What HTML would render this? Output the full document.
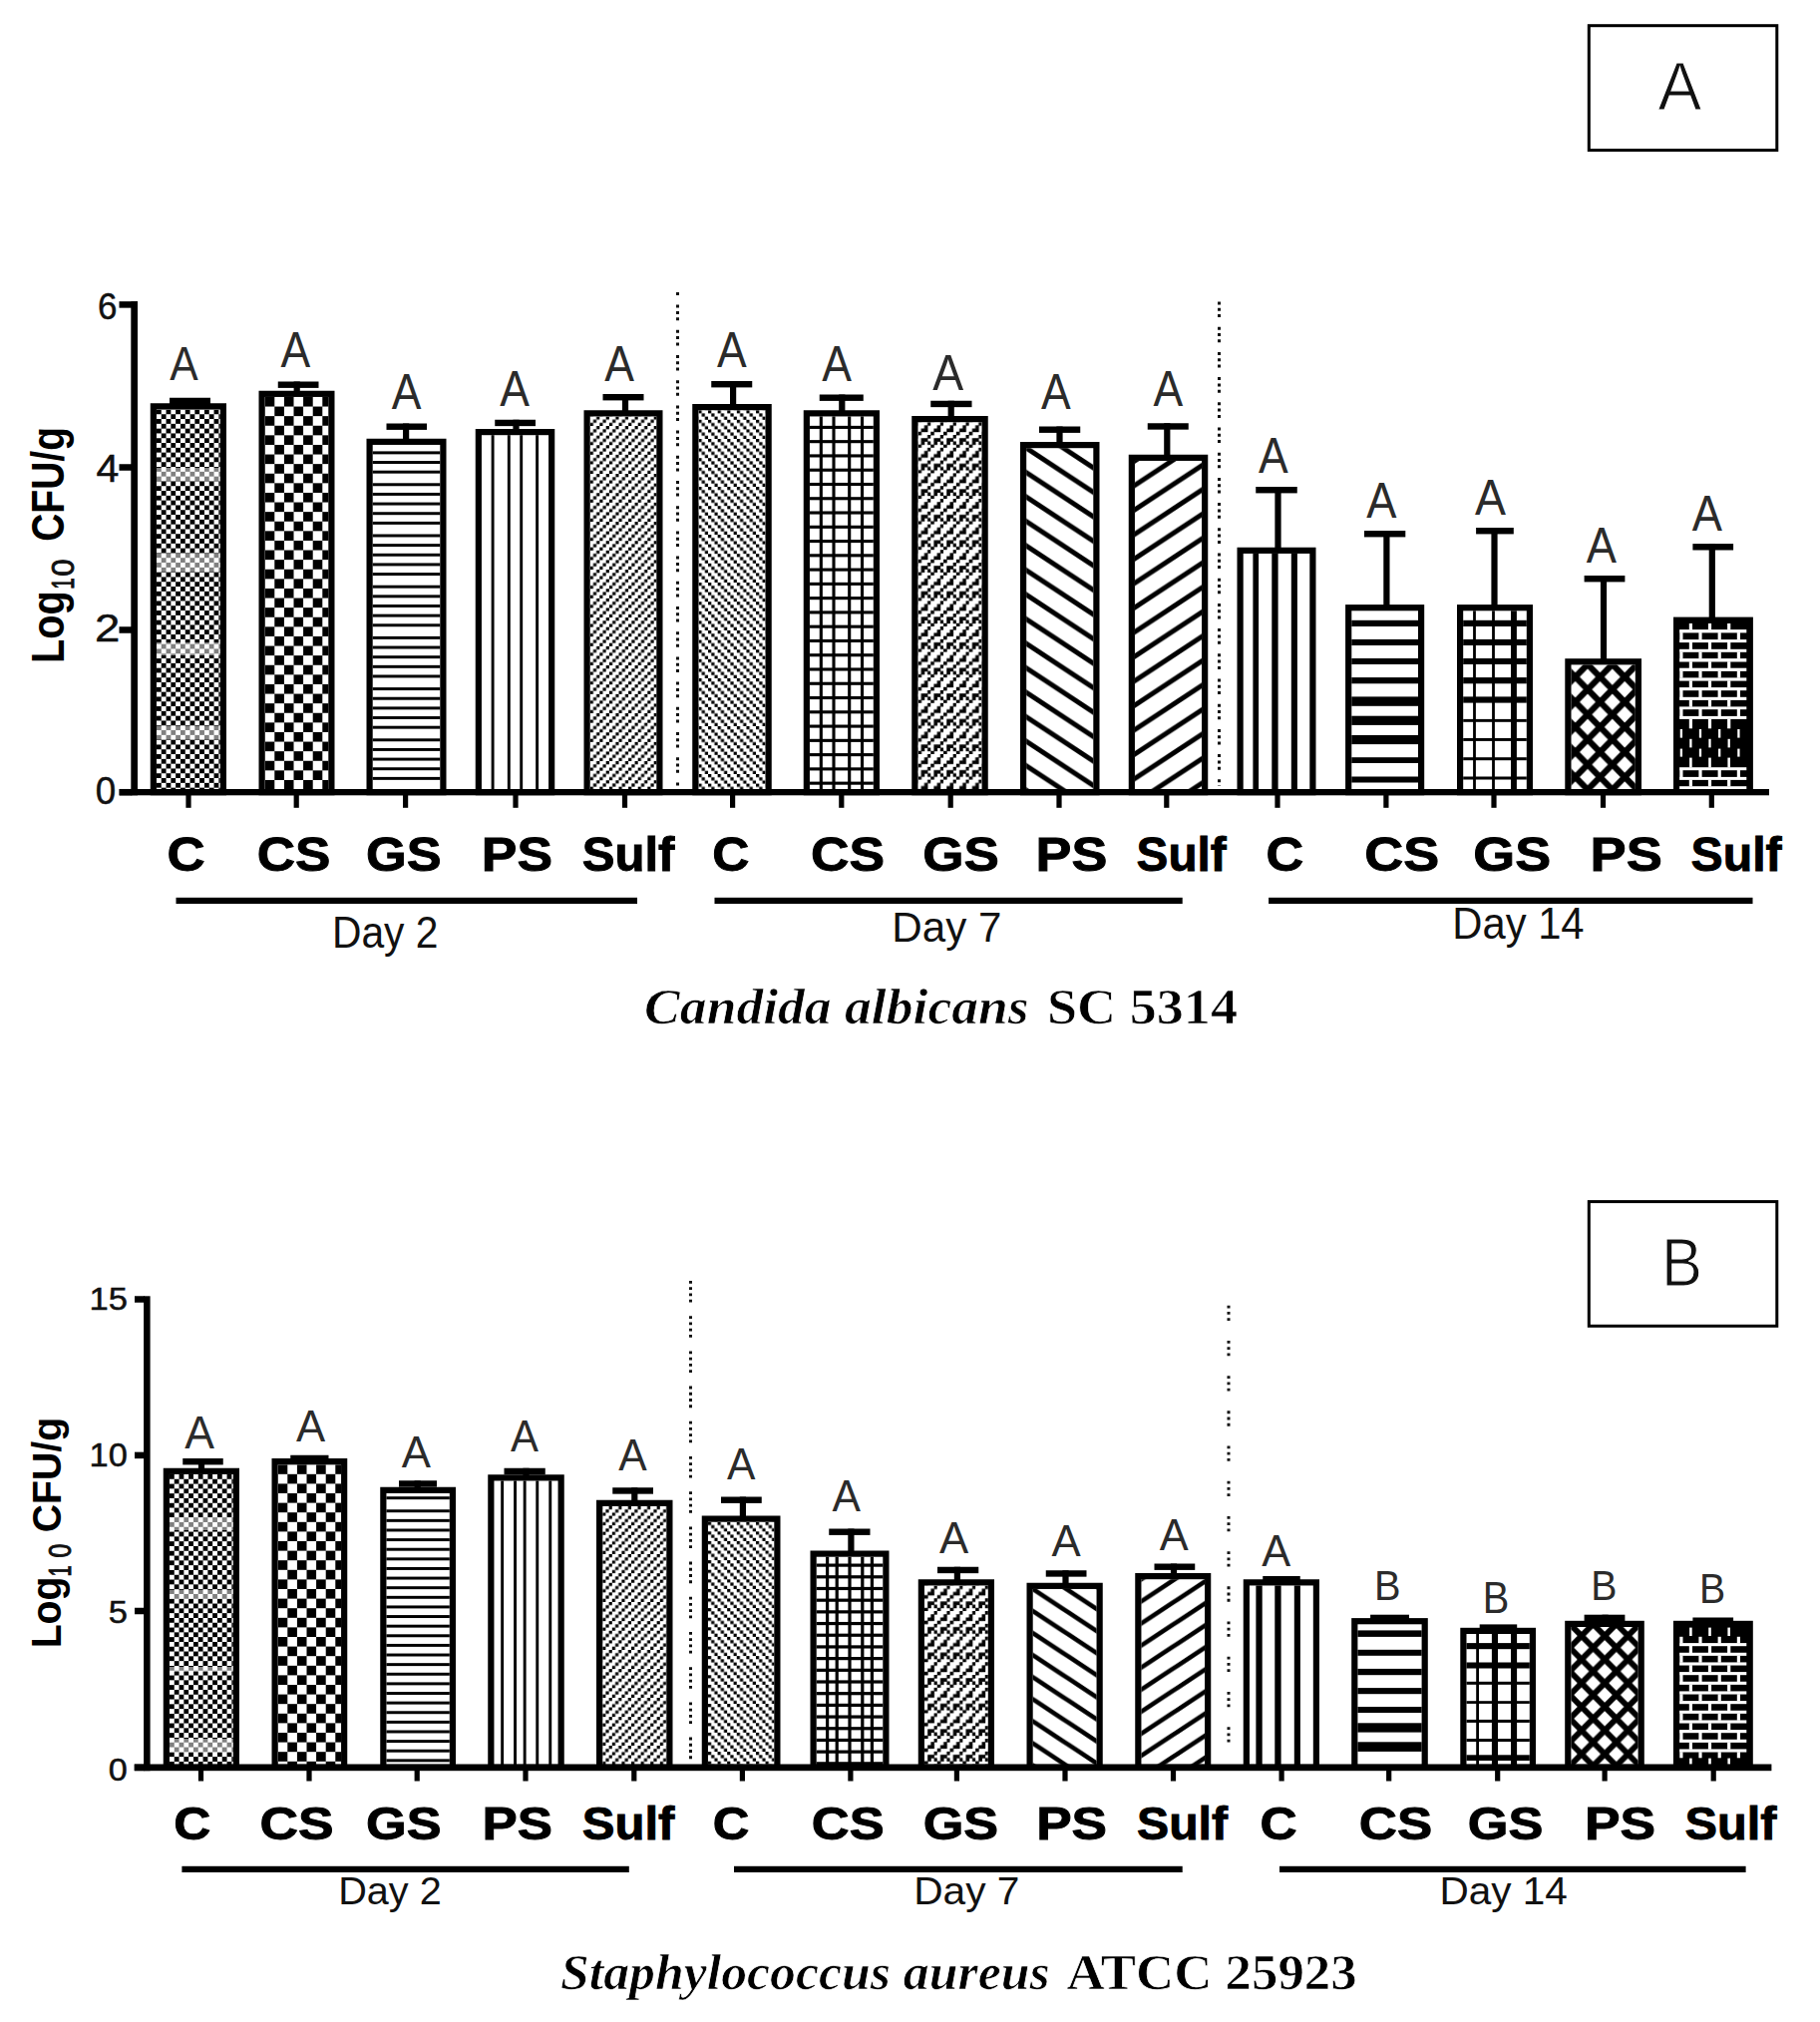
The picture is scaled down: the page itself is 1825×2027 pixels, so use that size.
<!DOCTYPE html>
<html><head><meta charset="utf-8"><title>Figure</title>
<style>html,body{margin:0;padding:0;background:#fff}svg{display:block}text{white-space:pre}</style></head>
<body><svg width="1825" height="2027" viewBox="0 0 1825 2027">
<defs>
<pattern id="pfine" patternUnits="userSpaceOnUse" width="9.6" height="9.6"><rect width="9.6" height="9.6" fill="#fff"/><rect x="0" y="0" width="4.8" height="4.8" fill="#000"/><rect x="4.8" y="4.8" width="4.8" height="4.8" fill="#000"/></pattern>
<pattern id="pchk" patternUnits="userSpaceOnUse" width="19.2" height="19.2"><rect width="19.2" height="19.2" fill="#fff"/><rect x="0" y="0" width="9.6" height="9.6" fill="#000"/><rect x="9.6" y="9.6" width="9.6" height="9.6" fill="#000"/></pattern>
<pattern id="ph" patternUnits="userSpaceOnUse" width="9.6" height="9.6"><rect width="9.6" height="9.6" fill="#fff"/><rect x="0" y="0" width="9.6" height="3" fill="#000"/></pattern>
<pattern id="pdl" patternUnits="userSpaceOnUse" width="9.6" height="9.6"><rect width="9.6" height="9.6" fill="#fff"/><rect x="0" y="6.4" width="3.2" height="3.2" fill="#000"/><rect x="3.2" y="3.2" width="3.2" height="3.2" fill="#000"/><rect x="6.4" y="0" width="3.2" height="3.2" fill="#000"/></pattern>
<pattern id="pdr" patternUnits="userSpaceOnUse" width="9.6" height="9.6"><rect width="9.6" height="9.6" fill="#fff"/><rect x="0" y="0" width="3.2" height="3.2" fill="#000"/><rect x="3.2" y="3.2" width="3.2" height="3.2" fill="#000"/><rect x="6.4" y="6.4" width="3.2" height="3.2" fill="#000"/></pattern>
<pattern id="pgs" patternUnits="userSpaceOnUse" width="14.2" height="14.2"><rect width="14.2" height="14.2" fill="#fff"/><rect x="0" y="0" width="14.2" height="3.6" fill="#000"/><rect x="0" y="0" width="3.6" height="14.2" fill="#000"/></pattern>
<pattern id="pzig" patternUnits="userSpaceOnUse" width="12.8" height="25.6"><rect width="12.8" height="25.6" fill="#fff"/>
<g fill="#000"><rect x="0" y="9.6" width="3.6" height="3.6"/><rect x="3.2" y="6.4" width="3.6" height="3.6"/><rect x="6.4" y="3.2" width="3.6" height="3.6"/><rect x="9.6" y="0" width="3.6" height="3.6"/>
<rect x="0" y="22.4" width="3.6" height="3.6"/><rect x="3.2" y="19.2" width="3.6" height="3.6"/><rect x="6.4" y="16" width="3.6" height="3.6"/><rect x="9.6" y="12.8" width="3.6" height="3.6"/>
<rect x="6.4" y="6.4" width="3.6" height="3.6"/><rect x="3.2" y="16" width="3.6" height="3.6"/><rect x="9.6" y="19.2" width="3.6" height="3.6"/></g></pattern>
<pattern id="pbs" patternUnits="userSpaceOnUse" width="37.2" height="24.5"><rect width="37.2" height="24.5" fill="#fff"/><g stroke="#000" stroke-width="4.9"><line x1="-37.2" y1="-24.5" x2="74.4" y2="49"/><line x1="-37.2" y1="-49" x2="74.4" y2="24.5"/><line x1="-37.2" y1="0" x2="74.4" y2="73.5"/></g></pattern>
<pattern id="pbsB" patternUnits="userSpaceOnUse" width="33.6" height="22.1"><rect width="33.6" height="22.1" fill="#fff"/><g stroke="#000" stroke-width="4.6"><line x1="-33.6" y1="-22.1" x2="67.2" y2="44.2"/><line x1="-33.6" y1="-44.2" x2="67.2" y2="22.1"/><line x1="-33.6" y1="0" x2="67.2" y2="66.3"/></g></pattern>
<pattern id="pfsB" patternUnits="userSpaceOnUse" width="33.6" height="22.1"><rect width="33.6" height="22.1" fill="#fff"/><g stroke="#000" stroke-width="4.6"><line x1="-33.6" y1="44.2" x2="67.2" y2="-22.1"/><line x1="-33.6" y1="66.3" x2="67.2" y2="0"/><line x1="-33.6" y1="22.1" x2="67.2" y2="-44.2"/></g></pattern>
<pattern id="pfs" patternUnits="userSpaceOnUse" width="37.2" height="24.5"><rect width="37.2" height="24.5" fill="#fff"/><g stroke="#000" stroke-width="4.9"><line x1="-37.2" y1="49" x2="74.4" y2="-24.5"/><line x1="-37.2" y1="73.5" x2="74.4" y2="0"/><line x1="-37.2" y1="24.5" x2="74.4" y2="-49"/></g></pattern>
<pattern id="pdiaA" patternUnits="userSpaceOnUse" x="1579.60" y="666.05" width="24.8" height="25.1"><rect width="24.8" height="25.1" fill="#000"/><polygon points="12.40,4.45 20.40,12.55 12.40,20.65 4.40,12.55" fill="#fff"/><polygon points="0.00,-8.10 8.00,0.00 0.00,8.10 -8.00,0.00" fill="#fff"/><polygon points="24.80,-8.10 32.80,0.00 24.80,8.10 16.80,0.00" fill="#fff"/><polygon points="0.00,17.00 8.00,25.10 0.00,33.20 -8.00,25.10" fill="#fff"/><polygon points="24.80,17.00 32.80,25.10 24.80,33.20 16.80,25.10" fill="#fff"/></pattern><pattern id="pdiaB" patternUnits="userSpaceOnUse" x="1585.85" y="1628.05" width="23.3" height="23.7"><rect width="23.3" height="23.7" fill="#000"/><polygon points="11.65,4.15 19.25,11.85 11.65,19.55 4.05,11.85" fill="#fff"/><polygon points="0.00,-7.70 7.60,0.00 0.00,7.70 -7.60,0.00" fill="#fff"/><polygon points="23.30,-7.70 30.90,0.00 23.30,7.70 15.70,0.00" fill="#fff"/><polygon points="0.00,16.00 7.60,23.70 0.00,31.40 -7.60,23.70" fill="#fff"/><polygon points="23.30,16.00 30.90,23.70 23.30,31.40 15.70,23.70" fill="#fff"/></pattern>
<pattern id="pbrick" patternUnits="userSpaceOnUse" width="19.1" height="19.2"><rect width="19.1" height="19.2" fill="#000"/><rect x="0" y="0" width="19.1" height="3.1" fill="#fff"/><rect x="0" y="9.6" width="19.1" height="3.1" fill="#fff"/><rect x="0" y="3.1" width="3.3" height="6.5" fill="#fff"/><rect x="9.55" y="12.7" width="3.3" height="6.5" fill="#fff"/></pattern>
</defs>
<rect width="1825" height="2027" fill="#fff"/>
<line x1="679.5" y1="292.5" x2="679.5" y2="788.0" stroke="#111" stroke-width="3" stroke-dasharray="3 3.3 3 3.3 3 9.6" stroke-dashoffset="12.1"/>
<line x1="1222.5" y1="302.5" x2="1222.5" y2="788.0" stroke="#111" stroke-width="3" stroke-dasharray="3 3.3 3 3.3 3 9.6" stroke-dashoffset="0"/>
<g transform="translate(156.95,410.45)">
<rect x="0" y="0" width="63.85" height="383.70" fill="url(#pfine)"/>
<rect x="0" y="58.55" width="63.85" height="13.00" fill="#fff" fill-opacity="0.5"/>
<rect x="0" y="144.55" width="63.85" height="18.00" fill="#fff" fill-opacity="0.5"/>
<rect x="0" y="233.55" width="63.85" height="13.00" fill="#fff" fill-opacity="0.5"/>
<rect x="0" y="317.55" width="63.85" height="13.00" fill="#fff" fill-opacity="0.5"/>
</g>
<rect x="153.85" y="407.35" width="70.05" height="386.80" fill="none" stroke="#000" stroke-width="6.2"/>
<g transform="translate(265.70,397.95)">
<rect x="0" y="0" width="63.60" height="396.20" fill="url(#pchk)"/>
</g>
<rect x="262.60" y="394.85" width="69.80" height="399.30" fill="none" stroke="#000" stroke-width="6.2"/>
<g transform="translate(373.70,445.95)">
<rect x="0" y="0" width="67.60" height="348.20" fill="#fff"/>
<rect x="0" y="6.45" width="67.60" height="2.95" fill="#000"/>
<rect x="0" y="16.10" width="67.60" height="2.95" fill="#000"/>
<rect x="0" y="25.75" width="67.60" height="2.95" fill="#000"/>
<rect x="0" y="38.35" width="67.60" height="2.95" fill="#000"/>
<rect x="0" y="48.00" width="67.60" height="2.95" fill="#000"/>
<rect x="0" y="57.65" width="67.60" height="2.95" fill="#000"/>
<rect x="0" y="67.30" width="67.60" height="2.95" fill="#000"/>
<rect x="0" y="76.95" width="67.60" height="2.95" fill="#000"/>
<rect x="0" y="89.55" width="67.60" height="2.95" fill="#000"/>
<rect x="0" y="99.20" width="67.60" height="2.95" fill="#000"/>
<rect x="0" y="108.85" width="67.60" height="2.95" fill="#000"/>
<rect x="0" y="118.50" width="67.60" height="2.95" fill="#000"/>
<rect x="0" y="128.15" width="67.60" height="2.95" fill="#000"/>
<rect x="0" y="140.75" width="67.60" height="2.95" fill="#000"/>
<rect x="0" y="150.40" width="67.60" height="2.95" fill="#000"/>
<rect x="0" y="160.05" width="67.60" height="2.95" fill="#000"/>
<rect x="0" y="169.70" width="67.60" height="2.95" fill="#000"/>
<rect x="0" y="179.35" width="67.60" height="2.95" fill="#000"/>
<rect x="0" y="191.95" width="67.60" height="2.95" fill="#000"/>
<rect x="0" y="201.60" width="67.60" height="2.95" fill="#000"/>
<rect x="0" y="211.25" width="67.60" height="2.95" fill="#000"/>
<rect x="0" y="220.90" width="67.60" height="2.95" fill="#000"/>
<rect x="0" y="230.55" width="67.60" height="2.95" fill="#000"/>
<rect x="0" y="243.15" width="67.60" height="2.95" fill="#000"/>
<rect x="0" y="252.80" width="67.60" height="2.95" fill="#000"/>
<rect x="0" y="262.45" width="67.60" height="2.95" fill="#000"/>
<rect x="0" y="272.10" width="67.60" height="2.95" fill="#000"/>
<rect x="0" y="281.75" width="67.60" height="2.95" fill="#000"/>
<rect x="0" y="294.35" width="67.60" height="2.95" fill="#000"/>
<rect x="0" y="304.00" width="67.60" height="2.95" fill="#000"/>
<rect x="0" y="313.65" width="67.60" height="2.95" fill="#000"/>
<rect x="0" y="323.30" width="67.60" height="2.95" fill="#000"/>
<rect x="0" y="332.95" width="67.60" height="2.95" fill="#000"/>
</g>
<rect x="370.60" y="442.85" width="73.80" height="351.30" fill="none" stroke="#000" stroke-width="6.2"/>
<g transform="translate(482.95,436.20)">
<rect x="0" y="0" width="67.10" height="357.95" fill="#fff"/>
<rect x="9.70" y="0" width="2.9" height="357.95" fill="#000"/>
<rect x="25.90" y="0" width="2.9" height="357.95" fill="#000"/>
<rect x="38.30" y="0" width="2.9" height="357.95" fill="#000"/>
<rect x="54.20" y="0" width="2.9" height="357.95" fill="#000"/>
</g>
<rect x="479.85" y="433.10" width="73.30" height="361.05" fill="none" stroke="#000" stroke-width="6.2"/>
<g transform="translate(591.70,417.45)">
<rect x="0" y="0" width="66.60" height="376.70" fill="url(#pdl)"/>
</g>
<rect x="588.60" y="414.35" width="72.80" height="379.80" fill="none" stroke="#000" stroke-width="6.2"/>
<g transform="translate(700.45,411.20)">
<rect x="0" y="0" width="67.10" height="382.95" fill="url(#pdr)"/>
</g>
<rect x="697.35" y="408.10" width="73.30" height="386.05" fill="none" stroke="#000" stroke-width="6.2"/>
<g transform="translate(811.95,417.45)">
<rect x="0" y="0" width="63.85" height="376.70" fill="#fff"/>
<rect x="9.80" y="0" width="3.1" height="376.70" fill="#000"/>
<rect x="22.50" y="0" width="3.1" height="376.70" fill="#000"/>
<rect x="38.20" y="0" width="3.1" height="376.70" fill="#000"/>
<rect x="51.00" y="0" width="3.1" height="376.70" fill="#000"/>
<rect x="0" y="9.40" width="63.85" height="3.1" fill="#000"/>
<rect x="0" y="23.67" width="63.85" height="3.1" fill="#000"/>
<rect x="0" y="37.94" width="63.85" height="3.1" fill="#000"/>
<rect x="0" y="52.21" width="63.85" height="3.1" fill="#000"/>
<rect x="0" y="66.48" width="63.85" height="3.1" fill="#000"/>
<rect x="0" y="80.75" width="63.85" height="3.1" fill="#000"/>
<rect x="0" y="95.02" width="63.85" height="3.1" fill="#000"/>
<rect x="0" y="109.29" width="63.85" height="3.1" fill="#000"/>
<rect x="0" y="123.56" width="63.85" height="3.1" fill="#000"/>
<rect x="0" y="137.83" width="63.85" height="3.1" fill="#000"/>
<rect x="0" y="152.10" width="63.85" height="3.1" fill="#000"/>
<rect x="0" y="166.37" width="63.85" height="3.1" fill="#000"/>
<rect x="0" y="180.64" width="63.85" height="3.1" fill="#000"/>
<rect x="0" y="194.91" width="63.85" height="3.1" fill="#000"/>
<rect x="0" y="209.18" width="63.85" height="3.1" fill="#000"/>
<rect x="0" y="223.45" width="63.85" height="3.1" fill="#000"/>
<rect x="0" y="237.72" width="63.85" height="3.1" fill="#000"/>
<rect x="0" y="251.99" width="63.85" height="3.1" fill="#000"/>
<rect x="0" y="266.26" width="63.85" height="3.1" fill="#000"/>
<rect x="0" y="280.53" width="63.85" height="3.1" fill="#000"/>
<rect x="0" y="294.80" width="63.85" height="3.1" fill="#000"/>
<rect x="0" y="309.07" width="63.85" height="3.1" fill="#000"/>
<rect x="0" y="323.34" width="63.85" height="3.1" fill="#000"/>
<rect x="0" y="337.61" width="63.85" height="3.1" fill="#000"/>
<rect x="0" y="351.88" width="63.85" height="3.1" fill="#000"/>
<rect x="0" y="366.15" width="63.85" height="3.1" fill="#000"/>
</g>
<rect x="808.85" y="414.35" width="70.05" height="379.80" fill="none" stroke="#000" stroke-width="6.2"/>
<g transform="translate(920.45,423.20)">
<rect x="0" y="0" width="64.10" height="370.95" fill="url(#pzig)"/>
</g>
<rect x="917.35" y="420.10" width="70.30" height="374.05" fill="none" stroke="#000" stroke-width="6.2"/>
<g transform="translate(1029.20,449.20)">
<rect x="0" y="0" width="67.10" height="344.95" fill="url(#pbs)"/>
</g>
<rect x="1026.10" y="446.10" width="73.30" height="348.05" fill="none" stroke="#000" stroke-width="6.2"/>
<g transform="translate(1137.95,461.95)">
<rect x="0" y="0" width="67.10" height="332.20" fill="url(#pfs)"/>
</g>
<rect x="1134.85" y="458.85" width="73.30" height="335.30" fill="none" stroke="#000" stroke-width="6.2"/>
<g transform="translate(1246.70,554.95)">
<rect x="0" y="0" width="66.60" height="239.20" fill="#fff"/>
<rect x="9.70" y="0" width="5.70" height="239.20" fill="#000"/>
<rect x="28.60" y="0" width="6.30" height="239.20" fill="#000"/>
<rect x="48.10" y="0" width="6.10" height="239.20" fill="#000"/>
</g>
<rect x="1243.60" y="551.85" width="72.80" height="242.30" fill="none" stroke="#000" stroke-width="6.2"/>
<g transform="translate(1355.30,612.30)">
<rect x="0" y="0" width="66.70" height="181.85" fill="#fff"/>
<rect x="0" y="9.50" width="66.70" height="6.20" fill="#000"/>
<rect x="0" y="28.60" width="66.70" height="6.10" fill="#000"/>
<rect x="0" y="47.70" width="66.70" height="6.00" fill="#000"/>
<rect x="0" y="66.80" width="66.70" height="6.20" fill="#000"/>
<rect x="0" y="86.10" width="66.70" height="9.40" fill="#000"/>
<rect x="0" y="105.40" width="66.70" height="9.20" fill="#000"/>
<rect x="0" y="124.70" width="66.70" height="9.10" fill="#000"/>
<rect x="0" y="146.90" width="66.70" height="5.80" fill="#000"/>
<rect x="0" y="166.20" width="66.70" height="6.00" fill="#000"/>
</g>
<rect x="1352.20" y="609.20" width="72.90" height="184.95" fill="none" stroke="#000" stroke-width="6.2"/>
<g transform="translate(1467.20,612.30)">
<rect x="0" y="0" width="63.60" height="181.85" fill="#fff"/>
<rect x="9.90" y="0" width="2.80" height="181.85" fill="#000"/>
<rect x="28.90" y="0" width="2.80" height="181.85" fill="#000"/>
<rect x="47.80" y="0" width="5.90" height="181.85" fill="#000"/>
<rect x="0" y="9.50" width="63.60" height="6.20" fill="#000"/>
<rect x="0" y="28.60" width="63.60" height="6.10" fill="#000"/>
<rect x="0" y="47.70" width="63.60" height="6.00" fill="#000"/>
<rect x="0" y="66.80" width="63.60" height="6.20" fill="#000"/>
<rect x="0" y="86.10" width="63.60" height="6.20" fill="#000"/>
<rect x="0" y="108.60" width="63.60" height="2.90" fill="#000"/>
<rect x="0" y="127.70" width="63.60" height="2.90" fill="#000"/>
<rect x="0" y="146.90" width="63.60" height="3.00" fill="#000"/>
<rect x="0" y="166.20" width="63.60" height="3.00" fill="#000"/>
</g>
<rect x="1464.10" y="609.20" width="69.80" height="184.95" fill="none" stroke="#000" stroke-width="6.2"/>
<rect x="1575.50" y="666.40" width="64.30" height="127.75" fill="url(#pdiaA)"/>
<rect x="1572.40" y="663.30" width="70.50" height="130.85" fill="none" stroke="#000" stroke-width="6.2"/>
<rect x="1678.00" y="618.60" width="79.90" height="175.55" fill="#000"/>
<rect x="1693.80" y="625.00" width="3.2" height="6.50" fill="#fff"/>
<rect x="1712.90" y="625.00" width="3.2" height="6.50" fill="#fff"/>
<rect x="1732.10" y="625.00" width="3.2" height="6.50" fill="#fff"/>
<rect x="1684.1" y="631.10" width="67.20" height="3.30" fill="#fff"/>
<rect x="1684.30" y="634.10" width="3.2" height="7.30" fill="#fff"/>
<rect x="1703.40" y="634.10" width="3.2" height="7.30" fill="#fff"/>
<rect x="1722.60" y="634.10" width="3.2" height="7.30" fill="#fff"/>
<rect x="1741.80" y="634.10" width="3.2" height="7.30" fill="#fff"/>
<rect x="1684.1" y="641.10" width="67.20" height="3.00" fill="#fff"/>
<rect x="1693.80" y="643.80" width="3.2" height="7.30" fill="#fff"/>
<rect x="1712.90" y="643.80" width="3.2" height="7.30" fill="#fff"/>
<rect x="1732.10" y="643.80" width="3.2" height="7.30" fill="#fff"/>
<rect x="1684.1" y="650.80" width="67.20" height="3.00" fill="#fff"/>
<rect x="1684.30" y="653.50" width="3.2" height="6.90" fill="#fff"/>
<rect x="1703.40" y="653.50" width="3.2" height="6.90" fill="#fff"/>
<rect x="1722.60" y="653.50" width="3.2" height="6.90" fill="#fff"/>
<rect x="1741.80" y="653.50" width="3.2" height="6.90" fill="#fff"/>
<rect x="1684.1" y="660.10" width="67.20" height="3.40" fill="#fff"/>
<rect x="1693.80" y="663.20" width="3.2" height="6.80" fill="#fff"/>
<rect x="1712.90" y="663.20" width="3.2" height="6.80" fill="#fff"/>
<rect x="1732.10" y="663.20" width="3.2" height="6.80" fill="#fff"/>
<rect x="1684.1" y="669.70" width="67.20" height="3.20" fill="#fff"/>
<rect x="1684.30" y="672.60" width="3.2" height="7.10" fill="#fff"/>
<rect x="1703.40" y="672.60" width="3.2" height="7.10" fill="#fff"/>
<rect x="1722.60" y="672.60" width="3.2" height="7.10" fill="#fff"/>
<rect x="1741.80" y="672.60" width="3.2" height="7.10" fill="#fff"/>
<rect x="1684.1" y="679.40" width="67.20" height="3.20" fill="#fff"/>
<rect x="1693.80" y="682.30" width="3.2" height="7.10" fill="#fff"/>
<rect x="1712.90" y="682.30" width="3.2" height="7.10" fill="#fff"/>
<rect x="1732.10" y="682.30" width="3.2" height="7.10" fill="#fff"/>
<rect x="1684.1" y="689.10" width="67.20" height="3.10" fill="#fff"/>
<rect x="1684.30" y="691.90" width="3.2" height="7.20" fill="#fff"/>
<rect x="1703.40" y="691.90" width="3.2" height="7.20" fill="#fff"/>
<rect x="1722.60" y="691.90" width="3.2" height="7.20" fill="#fff"/>
<rect x="1741.80" y="691.90" width="3.2" height="7.20" fill="#fff"/>
<rect x="1684.1" y="698.80" width="67.20" height="3.10" fill="#fff"/>
<rect x="1693.80" y="701.60" width="3.2" height="7.10" fill="#fff"/>
<rect x="1712.90" y="701.60" width="3.2" height="7.10" fill="#fff"/>
<rect x="1732.10" y="701.60" width="3.2" height="7.10" fill="#fff"/>
<rect x="1684.1" y="708.40" width="67.20" height="2.80" fill="#fff"/>
<rect x="1684.30" y="710.90" width="3.2" height="7.30" fill="#fff"/>
<rect x="1703.40" y="710.90" width="3.2" height="7.30" fill="#fff"/>
<rect x="1722.60" y="710.90" width="3.2" height="7.30" fill="#fff"/>
<rect x="1741.80" y="710.90" width="3.2" height="7.30" fill="#fff"/>
<rect x="1684.1" y="717.90" width="67.20" height="3.00" fill="#fff"/>
<rect x="1693.80" y="720.60" width="3.2" height="9.70" fill="#fff"/>
<rect x="1712.90" y="720.60" width="3.2" height="9.70" fill="#fff"/>
<rect x="1732.10" y="720.60" width="3.2" height="9.70" fill="#fff"/>
<rect x="1684.75" y="731.00" width="2.3" height="8.60" fill="#fff"/>
<rect x="1703.85" y="731.00" width="2.3" height="8.60" fill="#fff"/>
<rect x="1723.05" y="731.00" width="2.3" height="8.60" fill="#fff"/>
<rect x="1742.25" y="731.00" width="2.3" height="8.60" fill="#fff"/>
<rect x="1694.25" y="740.80" width="2.3" height="8.60" fill="#fff"/>
<rect x="1713.35" y="740.80" width="2.3" height="8.60" fill="#fff"/>
<rect x="1732.55" y="740.80" width="2.3" height="8.60" fill="#fff"/>
<rect x="1684.75" y="750.60" width="2.3" height="8.00" fill="#fff"/>
<rect x="1703.85" y="750.60" width="2.3" height="8.00" fill="#fff"/>
<rect x="1723.05" y="750.60" width="2.3" height="8.00" fill="#fff"/>
<rect x="1742.25" y="750.60" width="2.3" height="8.00" fill="#fff"/>
<rect x="1694.10" y="759.60" width="2.6" height="9.90" fill="#fff"/>
<rect x="1713.20" y="759.60" width="2.6" height="9.90" fill="#fff"/>
<rect x="1732.40" y="759.60" width="2.6" height="9.90" fill="#fff"/>
<rect x="1684.1" y="769.20" width="67.20" height="3.00" fill="#fff"/>
<rect x="1684.30" y="771.90" width="3.2" height="7.30" fill="#fff"/>
<rect x="1703.40" y="771.90" width="3.2" height="7.30" fill="#fff"/>
<rect x="1722.60" y="771.90" width="3.2" height="7.30" fill="#fff"/>
<rect x="1741.80" y="771.90" width="3.2" height="7.30" fill="#fff"/>
<rect x="1684.1" y="778.90" width="67.20" height="3.00" fill="#fff"/>
<rect x="1693.80" y="781.60" width="3.2" height="6.90" fill="#fff"/>
<rect x="1712.90" y="781.60" width="3.2" height="6.90" fill="#fff"/>
<rect x="1732.10" y="781.60" width="3.2" height="6.90" fill="#fff"/>
<rect x="1684.1" y="788.20" width="67.20" height="3.00" fill="#fff"/>
<rect x="170.00" y="398.75" width="41.00" height="6.4" fill="#000"/>
<rect x="278.75" y="382.50" width="40.75" height="6.4" fill="#000"/><rect x="294.60" y="382.50" width="6.2" height="10.25" fill="#000"/>
<rect x="387.50" y="424.50" width="40.50" height="6.4" fill="#000"/><rect x="404.00" y="424.50" width="6.2" height="16.25" fill="#000"/>
<rect x="496.25" y="420.75" width="40.75" height="6.4" fill="#000"/><rect x="514.40" y="420.75" width="6.2" height="10.25" fill="#000"/>
<rect x="604.50" y="395.00" width="41.00" height="6.4" fill="#000"/><rect x="623.90" y="395.00" width="6.2" height="17.25" fill="#000"/>
<rect x="713.25" y="382.00" width="41.00" height="6.4" fill="#000"/><rect x="732.00" y="382.00" width="6.2" height="24.00" fill="#000"/>
<rect x="821.75" y="395.50" width="44.00" height="6.4" fill="#000"/><rect x="841.20" y="395.50" width="6.2" height="16.75" fill="#000"/>
<rect x="933.25" y="401.75" width="41.25" height="6.4" fill="#000"/><rect x="950.60" y="401.75" width="6.2" height="16.25" fill="#000"/>
<rect x="1042.00" y="427.50" width="41.25" height="6.4" fill="#000"/><rect x="1059.40" y="427.50" width="6.2" height="16.50" fill="#000"/>
<rect x="1150.75" y="424.25" width="41.00" height="6.4" fill="#000"/><rect x="1167.20" y="424.25" width="6.2" height="32.50" fill="#000"/>
<rect x="1259.25" y="488.00" width="41.50" height="6.4" fill="#000"/><rect x="1278.40" y="488.00" width="6.2" height="61.75" fill="#000"/>
<rect x="1368.00" y="532.00" width="41.30" height="6.4" fill="#000"/><rect x="1387.30" y="532.00" width="6.2" height="75.10" fill="#000"/>
<rect x="1480.10" y="529.00" width="37.70" height="6.4" fill="#000"/><rect x="1495.40" y="529.00" width="6.2" height="78.10" fill="#000"/>
<rect x="1588.60" y="577.00" width="40.80" height="6.4" fill="#000"/><rect x="1604.90" y="577.00" width="6.2" height="84.20" fill="#000"/>
<rect x="1697.40" y="545.10" width="40.70" height="6.4" fill="#000"/><rect x="1713.70" y="545.10" width="6.2" height="74.50" fill="#000"/>
<rect x="131.3" y="302.0" width="6.70" height="495.30" fill="#000"/>
<rect x="119.8" y="791.0" width="1654.20" height="6.30" fill="#000"/>
<rect x="119.5" y="302.15" width="12.80" height="6.5" fill="#000"/>
<text transform="translate(97.96,319.90) scale(0.9489,1)" style="font-family:'Liberation Sans',sans-serif;font-size:36.71px" fill="#111" stroke="#111" stroke-width="0.5">6</text>
<rect x="119.5" y="465.25" width="12.80" height="6.5" fill="#000"/>
<text transform="translate(96.38,482.90) scale(1.0713,1)" style="font-family:'Liberation Sans',sans-serif;font-size:38.26px" fill="#111" stroke="#111" stroke-width="0.5">4</text>
<rect x="119.5" y="628.25" width="12.80" height="6.5" fill="#000"/>
<text transform="translate(94.93,643.10) scale(1.1751,1)" style="font-family:'Liberation Sans',sans-serif;font-size:38.71px" fill="#111" stroke="#111" stroke-width="0.5">2</text>
<rect x="119.5" y="790.95" width="12.80" height="6.5" fill="#000"/>
<text transform="translate(95.83,806.10) scale(0.9613,1)" style="font-family:'Liberation Sans',sans-serif;font-size:38.14px" fill="#111" stroke="#111" stroke-width="0.5">0</text>
<rect x="186.40" y="796.30" width="5.2" height="13.50" fill="#000"/>
<rect x="294.60" y="796.30" width="5.2" height="13.50" fill="#000"/>
<rect x="404.00" y="796.30" width="5.2" height="13.50" fill="#000"/>
<rect x="514.40" y="796.30" width="5.2" height="13.50" fill="#000"/>
<rect x="623.90" y="796.30" width="5.2" height="13.50" fill="#000"/>
<rect x="732.00" y="796.30" width="5.2" height="13.50" fill="#000"/>
<rect x="841.20" y="796.30" width="5.2" height="13.50" fill="#000"/>
<rect x="950.60" y="796.30" width="5.2" height="13.50" fill="#000"/>
<rect x="1059.40" y="796.30" width="5.2" height="13.50" fill="#000"/>
<rect x="1167.20" y="796.30" width="5.2" height="13.50" fill="#000"/>
<rect x="1278.40" y="796.30" width="5.2" height="13.50" fill="#000"/>
<rect x="1387.30" y="796.30" width="5.2" height="13.50" fill="#000"/>
<rect x="1495.40" y="796.30" width="5.2" height="13.50" fill="#000"/>
<rect x="1604.90" y="796.30" width="5.2" height="13.50" fill="#000"/>
<rect x="1713.70" y="796.30" width="5.2" height="13.50" fill="#000"/>
<text transform="translate(170.20,380.95) scale(0.8847,1)" style="font-family:'Liberation Sans',sans-serif;font-size:48.19px" fill="#2b2b2b" >A</text>
<text transform="translate(281.45,368.45) scale(0.9033,1)" style="font-family:'Liberation Sans',sans-serif;font-size:49.28px" fill="#2b2b2b" >A</text>
<text transform="translate(392.70,410.45) scale(0.8902,1)" style="font-family:'Liberation Sans',sans-serif;font-size:50.00px" fill="#2b2b2b" >A</text>
<text transform="translate(501.20,407.20) scale(0.8902,1)" style="font-family:'Liberation Sans',sans-serif;font-size:50.00px" fill="#2b2b2b" >A</text>
<text transform="translate(606.20,381.70) scale(0.8902,1)" style="font-family:'Liberation Sans',sans-serif;font-size:50.00px" fill="#2b2b2b" >A</text>
<text transform="translate(718.95,368.45) scale(0.9033,1)" style="font-family:'Liberation Sans',sans-serif;font-size:49.28px" fill="#2b2b2b" >A</text>
<text transform="translate(824.20,381.70) scale(0.8902,1)" style="font-family:'Liberation Sans',sans-serif;font-size:50.00px" fill="#2b2b2b" >A</text>
<text transform="translate(935.20,390.95) scale(0.9278,1)" style="font-family:'Liberation Sans',sans-serif;font-size:50.00px" fill="#2b2b2b" >A</text>
<text transform="translate(1043.95,410.45) scale(0.8902,1)" style="font-family:'Liberation Sans',sans-serif;font-size:50.00px" fill="#2b2b2b" >A</text>
<text transform="translate(1156.45,407.20) scale(0.8902,1)" style="font-family:'Liberation Sans',sans-serif;font-size:50.00px" fill="#2b2b2b" >A</text>
<text transform="translate(1261.95,474.20) scale(0.8902,1)" style="font-family:'Liberation Sans',sans-serif;font-size:50.00px" fill="#2b2b2b" >A</text>
<text transform="translate(1370.20,519.30) scale(0.8898,1)" style="font-family:'Liberation Sans',sans-serif;font-size:50.87px" fill="#2b2b2b" >A</text>
<text transform="translate(1478.90,515.70) scale(0.9375,1)" style="font-family:'Liberation Sans',sans-serif;font-size:49.57px" fill="#2b2b2b" >A</text>
<text transform="translate(1590.70,563.70) scale(0.9053,1)" style="font-family:'Liberation Sans',sans-serif;font-size:50.00px" fill="#2b2b2b" >A</text>
<text transform="translate(1696.70,531.70) scale(0.9079,1)" style="font-family:'Liberation Sans',sans-serif;font-size:49.86px" fill="#2b2b2b" >A</text>
<text transform="translate(167.59,872.90) scale(1.1171,1)" style="font-family:'Liberation Sans',sans-serif;font-weight:bold;font-size:47.29px" fill="#000" stroke="#000" stroke-width="0.9">C</text>
<text transform="translate(257.68,872.90) scale(1.1220,1)" style="font-family:'Liberation Sans',sans-serif;font-weight:bold;font-size:47.29px" fill="#000" stroke="#000" stroke-width="0.9">CS</text>
<text transform="translate(367.11,872.90) scale(1.1053,1)" style="font-family:'Liberation Sans',sans-serif;font-weight:bold;font-size:47.29px" fill="#000" stroke="#000" stroke-width="0.9">GS</text>
<text transform="translate(482.83,872.90) scale(1.1279,1)" style="font-family:'Liberation Sans',sans-serif;font-weight:bold;font-size:47.29px" fill="#000" stroke="#000" stroke-width="0.9">PS</text>
<text transform="translate(583.73,872.90) scale(1.0381,1)" style="font-family:'Liberation Sans',sans-serif;font-weight:bold;font-size:47.29px" fill="#000" stroke="#000" stroke-width="0.9">Sulf</text>
<text transform="translate(714.24,872.90) scale(1.0881,1)" style="font-family:'Liberation Sans',sans-serif;font-weight:bold;font-size:47.29px" fill="#000" stroke="#000" stroke-width="0.9">C</text>
<text transform="translate(813.07,872.90) scale(1.1284,1)" style="font-family:'Liberation Sans',sans-serif;font-weight:bold;font-size:47.29px" fill="#000" stroke="#000" stroke-width="0.9">CS</text>
<text transform="translate(925.18,872.90) scale(1.1207,1)" style="font-family:'Liberation Sans',sans-serif;font-weight:bold;font-size:47.29px" fill="#000" stroke="#000" stroke-width="0.9">GS</text>
<text transform="translate(1038.60,872.90) scale(1.1382,1)" style="font-family:'Liberation Sans',sans-serif;font-weight:bold;font-size:47.29px" fill="#000" stroke="#000" stroke-width="0.9">PS</text>
<text transform="translate(1139.57,872.90) scale(1.0085,1)" style="font-family:'Liberation Sans',sans-serif;font-weight:bold;font-size:47.29px" fill="#000" stroke="#000" stroke-width="0.9">Sulf</text>
<text transform="translate(1269.61,872.90) scale(1.1042,1)" style="font-family:'Liberation Sans',sans-serif;font-weight:bold;font-size:47.29px" fill="#000" stroke="#000" stroke-width="0.9">C</text>
<text transform="translate(1368.34,872.90) scale(1.1397,1)" style="font-family:'Liberation Sans',sans-serif;font-weight:bold;font-size:47.29px" fill="#000" stroke="#000" stroke-width="0.9">CS</text>
<text transform="translate(1477.25,872.90) scale(1.1392,1)" style="font-family:'Liberation Sans',sans-serif;font-weight:bold;font-size:47.29px" fill="#000" stroke="#000" stroke-width="0.9">GS</text>
<text transform="translate(1594.58,872.90) scale(1.1451,1)" style="font-family:'Liberation Sans',sans-serif;font-weight:bold;font-size:47.29px" fill="#000" stroke="#000" stroke-width="0.9">PS</text>
<text transform="translate(1695.55,872.90) scale(1.0199,1)" style="font-family:'Liberation Sans',sans-serif;font-weight:bold;font-size:47.29px" fill="#000" stroke="#000" stroke-width="0.9">Sulf</text>
<rect x="176.5" y="899.8" width="462.50" height="6.20" fill="#000"/>
<rect x="716.5" y="899.8" width="469.20" height="6.20" fill="#000"/>
<rect x="1272.1" y="899.8" width="485.40" height="6.20" fill="#000"/>
<text transform="translate(332.94,950.10) scale(0.9232,1)" style="font-family:'Liberation Sans',sans-serif;font-size:44.20px" fill="#111" >Day 2</text>
<text transform="translate(894.33,943.50) scale(0.9789,1)" style="font-family:'Liberation Sans',sans-serif;font-size:43.04px" fill="#111" >Day 7</text>
<text transform="translate(1456.26,940.50) scale(0.9607,1)" style="font-family:'Liberation Sans',sans-serif;font-size:43.48px" fill="#111" >Day 14</text>
<line x1="692.5" y1="1284" x2="692.5" y2="1765.5" stroke="#111" stroke-width="3" stroke-dasharray="2.8 3.45 2.8 3.45 2.8 3.45 2.8 13.65" stroke-dashoffset="0"/>
<line x1="1232" y1="1308.75" x2="1232" y2="1765.5" stroke="#111" stroke-width="3" stroke-dasharray="2.8 3.45 2.8 3.45 2.8 19.9" stroke-dashoffset="0"/>
<g transform="translate(169.95,1477.95)">
<rect x="0" y="0" width="63.85" height="293.90" fill="url(#pfine)"/>
<rect x="0" y="43.05" width="63.85" height="13.00" fill="#fff" fill-opacity="0.5"/>
<rect x="0" y="116.05" width="63.85" height="9.00" fill="#fff" fill-opacity="0.5"/>
<rect x="0" y="193.05" width="63.85" height="5.00" fill="#fff" fill-opacity="0.5"/>
<rect x="0" y="265.05" width="63.85" height="14.00" fill="#fff" fill-opacity="0.5"/>
</g>
<rect x="166.85" y="1474.85" width="70.05" height="297.00" fill="none" stroke="#000" stroke-width="6.2"/>
<g transform="translate(278.70,1468.20)">
<rect x="0" y="0" width="63.35" height="303.65" fill="url(#pchk)"/>
</g>
<rect x="275.60" y="1465.10" width="69.55" height="306.75" fill="none" stroke="#000" stroke-width="6.2"/>
<g transform="translate(387.45,1496.95)">
<rect x="0" y="0" width="63.35" height="274.90" fill="#fff"/>
<rect x="0" y="3.25" width="63.35" height="2.95" fill="#000"/>
<rect x="0" y="16.30" width="63.35" height="2.95" fill="#000"/>
<rect x="0" y="25.92" width="63.35" height="2.95" fill="#000"/>
<rect x="0" y="35.54" width="63.35" height="2.95" fill="#000"/>
<rect x="0" y="45.16" width="63.35" height="2.95" fill="#000"/>
<rect x="0" y="54.78" width="63.35" height="2.95" fill="#000"/>
<rect x="0" y="64.40" width="63.35" height="2.95" fill="#000"/>
<rect x="0" y="74.02" width="63.35" height="2.95" fill="#000"/>
<rect x="0" y="83.64" width="63.35" height="2.95" fill="#000"/>
<rect x="0" y="93.26" width="63.35" height="2.95" fill="#000"/>
<rect x="0" y="102.88" width="63.35" height="2.95" fill="#000"/>
<rect x="0" y="112.50" width="63.35" height="2.95" fill="#000"/>
<rect x="0" y="122.12" width="63.35" height="2.95" fill="#000"/>
<rect x="0" y="131.74" width="63.35" height="2.95" fill="#000"/>
<rect x="0" y="141.36" width="63.35" height="2.95" fill="#000"/>
<rect x="0" y="150.98" width="63.35" height="2.95" fill="#000"/>
<rect x="0" y="160.60" width="63.35" height="2.95" fill="#000"/>
<rect x="0" y="170.22" width="63.35" height="2.95" fill="#000"/>
<rect x="0" y="179.84" width="63.35" height="2.95" fill="#000"/>
<rect x="0" y="189.46" width="63.35" height="2.95" fill="#000"/>
<rect x="0" y="199.08" width="63.35" height="2.95" fill="#000"/>
<rect x="0" y="208.70" width="63.35" height="2.95" fill="#000"/>
<rect x="0" y="218.32" width="63.35" height="2.95" fill="#000"/>
<rect x="0" y="227.94" width="63.35" height="2.95" fill="#000"/>
<rect x="0" y="237.56" width="63.35" height="2.95" fill="#000"/>
<rect x="0" y="247.18" width="63.35" height="2.95" fill="#000"/>
<rect x="0" y="256.80" width="63.35" height="2.95" fill="#000"/>
<rect x="0" y="266.42" width="63.35" height="2.95" fill="#000"/>
</g>
<rect x="384.35" y="1493.85" width="69.55" height="278.00" fill="none" stroke="#000" stroke-width="6.2"/>
<g transform="translate(495.45,1484.45)">
<rect x="0" y="0" width="64.10" height="287.40" fill="#fff"/>
<rect x="6.75" y="0" width="2.9" height="287.40" fill="#000"/>
<rect x="19.65" y="0" width="2.9" height="287.40" fill="#000"/>
<rect x="29.25" y="0" width="2.9" height="287.40" fill="#000"/>
<rect x="41.85" y="0" width="2.9" height="287.40" fill="#000"/>
<rect x="54.85" y="0" width="2.9" height="287.40" fill="#000"/>
</g>
<rect x="492.35" y="1481.35" width="70.30" height="290.50" fill="none" stroke="#000" stroke-width="6.2"/>
<g transform="translate(604.20,1509.95)">
<rect x="0" y="0" width="64.10" height="261.90" fill="url(#pdl)"/>
</g>
<rect x="601.10" y="1506.85" width="70.30" height="265.00" fill="none" stroke="#000" stroke-width="6.2"/>
<g transform="translate(709.95,1525.70)">
<rect x="0" y="0" width="66.35" height="246.15" fill="url(#pdr)"/>
</g>
<rect x="706.85" y="1522.60" width="72.55" height="249.25" fill="none" stroke="#000" stroke-width="6.2"/>
<g transform="translate(818.70,1560.70)">
<rect x="0" y="0" width="66.60" height="211.15" fill="#fff"/>
<rect x="9.30" y="0" width="3.2" height="211.15" fill="#000"/>
<rect x="18.90" y="0" width="3.2" height="211.15" fill="#000"/>
<rect x="31.70" y="0" width="3.2" height="211.15" fill="#000"/>
<rect x="44.50" y="0" width="3.2" height="211.15" fill="#000"/>
<rect x="54.10" y="0" width="3.2" height="211.15" fill="#000"/>
<rect x="0" y="6.80" width="66.60" height="3.2" fill="#000"/>
<rect x="0" y="18.49" width="66.60" height="3.2" fill="#000"/>
<rect x="0" y="30.18" width="66.60" height="3.2" fill="#000"/>
<rect x="0" y="41.87" width="66.60" height="3.2" fill="#000"/>
<rect x="0" y="53.56" width="66.60" height="3.2" fill="#000"/>
<rect x="0" y="65.25" width="66.60" height="3.2" fill="#000"/>
<rect x="0" y="76.94" width="66.60" height="3.2" fill="#000"/>
<rect x="0" y="88.63" width="66.60" height="3.2" fill="#000"/>
<rect x="0" y="100.32" width="66.60" height="3.2" fill="#000"/>
<rect x="0" y="112.01" width="66.60" height="3.2" fill="#000"/>
<rect x="0" y="123.70" width="66.60" height="3.2" fill="#000"/>
<rect x="0" y="135.39" width="66.60" height="3.2" fill="#000"/>
<rect x="0" y="147.08" width="66.60" height="3.2" fill="#000"/>
<rect x="0" y="158.77" width="66.60" height="3.2" fill="#000"/>
<rect x="0" y="170.46" width="66.60" height="3.2" fill="#000"/>
<rect x="0" y="182.15" width="66.60" height="3.2" fill="#000"/>
<rect x="0" y="193.84" width="66.60" height="3.2" fill="#000"/>
<rect x="0" y="205.53" width="66.60" height="3.2" fill="#000"/>
</g>
<rect x="815.60" y="1557.60" width="72.80" height="214.25" fill="none" stroke="#000" stroke-width="6.2"/>
<g transform="translate(926.95,1589.45)">
<rect x="0" y="0" width="63.85" height="182.40" fill="url(#pzig)"/>
</g>
<rect x="923.85" y="1586.35" width="70.05" height="185.50" fill="none" stroke="#000" stroke-width="6.2"/>
<g transform="translate(1035.70,1592.95)">
<rect x="0" y="0" width="63.85" height="178.90" fill="url(#pbsB)"/>
</g>
<rect x="1032.60" y="1589.85" width="70.05" height="182.00" fill="none" stroke="#000" stroke-width="6.2"/>
<g transform="translate(1144.45,1583.20)">
<rect x="0" y="0" width="63.60" height="188.65" fill="url(#pfsB)"/>
</g>
<rect x="1141.35" y="1580.10" width="69.80" height="191.75" fill="none" stroke="#000" stroke-width="6.2"/>
<g transform="translate(1252.95,1589.45)">
<rect x="0" y="0" width="63.85" height="182.40" fill="#fff"/>
<rect x="6.45" y="0" width="6.30" height="182.40" fill="#000"/>
<rect x="25.35" y="0" width="6.30" height="182.40" fill="#000"/>
<rect x="44.85" y="0" width="6.10" height="182.40" fill="#000"/>
</g>
<rect x="1249.85" y="1586.35" width="70.05" height="185.50" fill="none" stroke="#000" stroke-width="6.2"/>
<g transform="translate(1361.40,1628.30)">
<rect x="0" y="0" width="64.20" height="143.55" fill="#fff"/>
<rect x="0" y="6.10" width="64.20" height="6.50" fill="#000"/>
<rect x="0" y="25.50" width="64.20" height="6.00" fill="#000"/>
<rect x="0" y="44.60" width="64.20" height="6.30" fill="#000"/>
<rect x="0" y="63.80" width="64.20" height="6.10" fill="#000"/>
<rect x="0" y="82.70" width="64.20" height="6.00" fill="#000"/>
<rect x="0" y="99.00" width="64.20" height="9.30" fill="#000"/>
<rect x="0" y="118.00" width="64.20" height="9.60" fill="#000"/>
</g>
<rect x="1358.30" y="1625.20" width="70.40" height="146.65" fill="none" stroke="#000" stroke-width="6.2"/>
<g transform="translate(1470.50,1638.00)">
<rect x="0" y="0" width="63.30" height="133.85" fill="#fff"/>
<rect x="9.70" y="0" width="2.80" height="133.85" fill="#000"/>
<rect x="25.40" y="0" width="6.10" height="133.85" fill="#000"/>
<rect x="44.50" y="0" width="6.10" height="133.85" fill="#000"/>
<rect x="0" y="9.10" width="63.30" height="6.10" fill="#000"/>
<rect x="0" y="28.50" width="63.30" height="6.00" fill="#000"/>
<rect x="0" y="47.80" width="63.30" height="3.00" fill="#000"/>
<rect x="0" y="67.20" width="63.30" height="2.70" fill="#000"/>
<rect x="0" y="85.90" width="63.30" height="3.00" fill="#000"/>
<rect x="0" y="105.00" width="63.30" height="3.00" fill="#000"/>
<rect x="0" y="121.30" width="63.30" height="5.70" fill="#000"/>
</g>
<rect x="1467.40" y="1634.90" width="69.50" height="136.95" fill="none" stroke="#000" stroke-width="6.2"/>
<rect x="1575.40" y="1631.00" width="67.20" height="140.85" fill="url(#pdiaB)"/>
<rect x="1572.30" y="1627.90" width="73.40" height="143.95" fill="none" stroke="#000" stroke-width="6.2"/>
<rect x="1677.90" y="1624.80" width="79.90" height="147.05" fill="#000"/>
<rect x="1694.10" y="1631.60" width="2.6" height="8.40" fill="#fff"/>
<rect x="1713.20" y="1631.60" width="2.6" height="8.40" fill="#fff"/>
<rect x="1732.40" y="1631.60" width="2.6" height="8.40" fill="#fff"/>
<rect x="1684.30" y="1640.80" width="3.2" height="6.60" fill="#fff"/>
<rect x="1703.40" y="1640.80" width="3.2" height="6.60" fill="#fff"/>
<rect x="1722.60" y="1640.80" width="3.2" height="6.60" fill="#fff"/>
<rect x="1741.80" y="1640.80" width="3.2" height="6.60" fill="#fff"/>
<rect x="1684.1" y="1647.10" width="67.20" height="3.10" fill="#fff"/>
<rect x="1693.80" y="1649.90" width="3.2" height="7.17" fill="#fff"/>
<rect x="1712.90" y="1649.90" width="3.2" height="7.17" fill="#fff"/>
<rect x="1732.10" y="1649.90" width="3.2" height="7.17" fill="#fff"/>
<rect x="1684.1" y="1656.77" width="67.20" height="3.10" fill="#fff"/>
<rect x="1684.30" y="1659.57" width="3.2" height="7.17" fill="#fff"/>
<rect x="1703.40" y="1659.57" width="3.2" height="7.17" fill="#fff"/>
<rect x="1722.60" y="1659.57" width="3.2" height="7.17" fill="#fff"/>
<rect x="1741.80" y="1659.57" width="3.2" height="7.17" fill="#fff"/>
<rect x="1684.1" y="1666.43" width="67.20" height="3.10" fill="#fff"/>
<rect x="1693.80" y="1669.23" width="3.2" height="7.17" fill="#fff"/>
<rect x="1712.90" y="1669.23" width="3.2" height="7.17" fill="#fff"/>
<rect x="1732.10" y="1669.23" width="3.2" height="7.17" fill="#fff"/>
<rect x="1684.1" y="1676.10" width="67.20" height="3.10" fill="#fff"/>
<rect x="1684.30" y="1678.90" width="3.2" height="7.17" fill="#fff"/>
<rect x="1703.40" y="1678.90" width="3.2" height="7.17" fill="#fff"/>
<rect x="1722.60" y="1678.90" width="3.2" height="7.17" fill="#fff"/>
<rect x="1741.80" y="1678.90" width="3.2" height="7.17" fill="#fff"/>
<rect x="1684.1" y="1685.77" width="67.20" height="3.10" fill="#fff"/>
<rect x="1693.80" y="1688.57" width="3.2" height="7.17" fill="#fff"/>
<rect x="1712.90" y="1688.57" width="3.2" height="7.17" fill="#fff"/>
<rect x="1732.10" y="1688.57" width="3.2" height="7.17" fill="#fff"/>
<rect x="1684.1" y="1695.43" width="67.20" height="3.10" fill="#fff"/>
<rect x="1684.30" y="1698.24" width="3.2" height="7.17" fill="#fff"/>
<rect x="1703.40" y="1698.24" width="3.2" height="7.17" fill="#fff"/>
<rect x="1722.60" y="1698.24" width="3.2" height="7.17" fill="#fff"/>
<rect x="1741.80" y="1698.24" width="3.2" height="7.17" fill="#fff"/>
<rect x="1684.1" y="1705.10" width="67.20" height="3.10" fill="#fff"/>
<rect x="1693.80" y="1707.90" width="3.2" height="7.17" fill="#fff"/>
<rect x="1712.90" y="1707.90" width="3.2" height="7.17" fill="#fff"/>
<rect x="1732.10" y="1707.90" width="3.2" height="7.17" fill="#fff"/>
<rect x="1684.1" y="1714.77" width="67.20" height="3.10" fill="#fff"/>
<rect x="1684.30" y="1717.57" width="3.2" height="7.17" fill="#fff"/>
<rect x="1703.40" y="1717.57" width="3.2" height="7.17" fill="#fff"/>
<rect x="1722.60" y="1717.57" width="3.2" height="7.17" fill="#fff"/>
<rect x="1741.80" y="1717.57" width="3.2" height="7.17" fill="#fff"/>
<rect x="1684.1" y="1724.44" width="67.20" height="3.10" fill="#fff"/>
<rect x="1693.80" y="1727.24" width="3.2" height="7.17" fill="#fff"/>
<rect x="1712.90" y="1727.24" width="3.2" height="7.17" fill="#fff"/>
<rect x="1732.10" y="1727.24" width="3.2" height="7.17" fill="#fff"/>
<rect x="1684.1" y="1734.10" width="67.20" height="3.10" fill="#fff"/>
<rect x="1684.30" y="1736.90" width="3.2" height="7.17" fill="#fff"/>
<rect x="1703.40" y="1736.90" width="3.2" height="7.17" fill="#fff"/>
<rect x="1722.60" y="1736.90" width="3.2" height="7.17" fill="#fff"/>
<rect x="1741.80" y="1736.90" width="3.2" height="7.17" fill="#fff"/>
<rect x="1684.1" y="1743.77" width="67.20" height="3.10" fill="#fff"/>
<rect x="1693.80" y="1746.57" width="3.2" height="7.17" fill="#fff"/>
<rect x="1712.90" y="1746.57" width="3.2" height="7.17" fill="#fff"/>
<rect x="1732.10" y="1746.57" width="3.2" height="7.17" fill="#fff"/>
<rect x="1684.1" y="1753.44" width="67.20" height="3.10" fill="#fff"/>
<rect x="1684.30" y="1756.24" width="3.2" height="6.06" fill="#fff"/>
<rect x="1703.40" y="1756.24" width="3.2" height="6.06" fill="#fff"/>
<rect x="1722.60" y="1756.24" width="3.2" height="6.06" fill="#fff"/>
<rect x="1741.80" y="1756.24" width="3.2" height="6.06" fill="#fff"/>
<rect x="1694.10" y="1762.60" width="2.6" height="6.20" fill="#fff"/>
<rect x="1713.20" y="1762.60" width="2.6" height="6.20" fill="#fff"/>
<rect x="1732.40" y="1762.60" width="2.6" height="6.20" fill="#fff"/>
<rect x="183.25" y="1462.00" width="40.50" height="6.4" fill="#000"/><rect x="198.90" y="1462.00" width="6.2" height="10.75" fill="#000"/>
<rect x="291.25" y="1458.75" width="38.25" height="6.4" fill="#000"/>
<rect x="400.00" y="1484.25" width="38.00" height="6.4" fill="#000"/><rect x="415.60" y="1484.25" width="6.2" height="7.50" fill="#000"/>
<rect x="505.50" y="1471.75" width="41.25" height="6.4" fill="#000"/><rect x="524.40" y="1471.75" width="6.2" height="7.50" fill="#000"/>
<rect x="614.25" y="1491.25" width="40.75" height="6.4" fill="#000"/><rect x="633.20" y="1491.25" width="6.2" height="13.50" fill="#000"/>
<rect x="723.00" y="1500.50" width="40.75" height="6.4" fill="#000"/><rect x="741.80" y="1500.50" width="6.2" height="20.00" fill="#000"/>
<rect x="831.25" y="1532.50" width="41.25" height="6.4" fill="#000"/><rect x="850.30" y="1532.50" width="6.2" height="23.00" fill="#000"/>
<rect x="940.00" y="1570.75" width="41.25" height="6.4" fill="#000"/><rect x="956.80" y="1570.75" width="6.2" height="13.50" fill="#000"/>
<rect x="1048.75" y="1574.25" width="40.75" height="6.4" fill="#000"/><rect x="1065.40" y="1574.25" width="6.2" height="13.50" fill="#000"/>
<rect x="1157.50" y="1567.50" width="40.75" height="6.4" fill="#000"/><rect x="1173.90" y="1567.50" width="6.2" height="10.50" fill="#000"/>
<rect x="1266.25" y="1580.00" width="37.50" height="6.4" fill="#000"/>
<rect x="1374.10" y="1618.70" width="38.90" height="6.4" fill="#000"/>
<rect x="1483.70" y="1628.40" width="37.50" height="6.4" fill="#000"/>
<rect x="1588.60" y="1618.70" width="40.80" height="6.4" fill="#000"/><rect x="1606.50" y="1618.70" width="6.2" height="7.10" fill="#000"/>
<rect x="1697.40" y="1621.50" width="40.70" height="6.4" fill="#000"/>
<rect x="144.1" y="1299.3" width="6.50" height="475.90" fill="#000"/>
<rect x="134.6" y="1768.5" width="1641.80" height="6.70" fill="#000"/>
<rect x="135.0" y="1299.25" width="10.10" height="6.5" fill="#000"/>
<text transform="translate(89.51,1313.30) scale(1.0794,1)" style="font-family:'Liberation Sans',sans-serif;font-size:32.03px" fill="#111" stroke="#111" stroke-width="0.5">15</text>
<rect x="135.0" y="1455.65" width="10.10" height="6.5" fill="#000"/>
<text transform="translate(89.52,1469.90) scale(1.0644,1)" style="font-family:'Liberation Sans',sans-serif;font-size:32.32px" fill="#111" stroke="#111" stroke-width="0.5">10</text>
<rect x="135.0" y="1611.75" width="10.10" height="6.5" fill="#000"/>
<text transform="translate(108.72,1626.80) scale(1.0878,1)" style="font-family:'Liberation Sans',sans-serif;font-size:31.74px" fill="#111" stroke="#111" stroke-width="0.5">5</text>
<rect x="135.0" y="1768.65" width="10.10" height="6.5" fill="#000"/>
<text transform="translate(108.73,1784.50) scale(1.0921,1)" style="font-family:'Liberation Sans',sans-serif;font-size:31.29px" fill="#111" stroke="#111" stroke-width="0.5">0</text>
<rect x="198.90" y="1774.20" width="5.2" height="11.30" fill="#000"/>
<rect x="307.40" y="1774.20" width="5.2" height="11.30" fill="#000"/>
<rect x="415.60" y="1774.20" width="5.2" height="11.30" fill="#000"/>
<rect x="524.40" y="1774.20" width="5.2" height="11.30" fill="#000"/>
<rect x="633.20" y="1774.20" width="5.2" height="11.30" fill="#000"/>
<rect x="741.80" y="1774.20" width="5.2" height="11.30" fill="#000"/>
<rect x="850.30" y="1774.20" width="5.2" height="11.30" fill="#000"/>
<rect x="956.80" y="1774.20" width="5.2" height="11.30" fill="#000"/>
<rect x="1065.40" y="1774.20" width="5.2" height="11.30" fill="#000"/>
<rect x="1173.90" y="1774.20" width="5.2" height="11.30" fill="#000"/>
<rect x="1282.50" y="1774.20" width="5.2" height="11.30" fill="#000"/>
<rect x="1390.10" y="1774.20" width="5.2" height="11.30" fill="#000"/>
<rect x="1499.10" y="1774.20" width="5.2" height="11.30" fill="#000"/>
<rect x="1606.50" y="1774.20" width="5.2" height="11.30" fill="#000"/>
<rect x="1715.60" y="1774.20" width="5.2" height="11.30" fill="#000"/>
<text transform="translate(185.20,1452.20) scale(0.9598,1)" style="font-family:'Liberation Sans',sans-serif;font-size:46.38px" fill="#2b2b2b" >A</text>
<text transform="translate(296.95,1445.45) scale(0.9740,1)" style="font-family:'Liberation Sans',sans-serif;font-size:44.93px" fill="#2b2b2b" >A</text>
<text transform="translate(402.70,1470.95) scale(0.9662,1)" style="font-family:'Liberation Sans',sans-serif;font-size:45.29px" fill="#2b2b2b" >A</text>
<text transform="translate(511.95,1454.70) scale(0.9397,1)" style="font-family:'Liberation Sans',sans-serif;font-size:44.57px" fill="#2b2b2b" >A</text>
<text transform="translate(620.20,1474.20) scale(0.9489,1)" style="font-family:'Liberation Sans',sans-serif;font-size:44.93px" fill="#2b2b2b" >A</text>
<text transform="translate(728.95,1483.45) scale(0.9566,1)" style="font-family:'Liberation Sans',sans-serif;font-size:44.57px" fill="#2b2b2b" >A</text>
<text transform="translate(834.45,1515.45) scale(0.9566,1)" style="font-family:'Liberation Sans',sans-serif;font-size:44.57px" fill="#2b2b2b" >A</text>
<text transform="translate(941.95,1557.20) scale(0.9819,1)" style="font-family:'Liberation Sans',sans-serif;font-size:44.57px" fill="#2b2b2b" >A</text>
<text transform="translate(1054.45,1560.45) scale(0.9819,1)" style="font-family:'Liberation Sans',sans-serif;font-size:44.57px" fill="#2b2b2b" >A</text>
<text transform="translate(1162.70,1553.95) scale(0.9579,1)" style="font-family:'Liberation Sans',sans-serif;font-size:45.29px" fill="#2b2b2b" >A</text>
<text transform="translate(1265.20,1569.70) scale(0.9735,1)" style="font-family:'Liberation Sans',sans-serif;font-size:44.57px" fill="#2b2b2b" >A</text>
<text transform="translate(1378.01,1603.70) scale(0.9408,1)" style="font-family:'Liberation Sans',sans-serif;font-size:42.32px" fill="#2b2b2b" >B</text>
<text transform="translate(1486.81,1617.00) scale(0.9157,1)" style="font-family:'Liberation Sans',sans-serif;font-size:43.48px" fill="#2b2b2b" >B</text>
<text transform="translate(1595.36,1603.70) scale(0.9275,1)" style="font-family:'Liberation Sans',sans-serif;font-size:42.32px" fill="#2b2b2b" >B</text>
<text transform="translate(1704.06,1607.30) scale(0.9212,1)" style="font-family:'Liberation Sans',sans-serif;font-size:42.61px" fill="#2b2b2b" >B</text>
<text transform="translate(174.25,1843.70) scale(1.1257,1)" style="font-family:'Liberation Sans',sans-serif;font-weight:bold;font-size:45.57px" fill="#000" stroke="#000" stroke-width="0.9">C</text>
<text transform="translate(260.57,1843.70) scale(1.1709,1)" style="font-family:'Liberation Sans',sans-serif;font-weight:bold;font-size:45.57px" fill="#000" stroke="#000" stroke-width="0.9">CS</text>
<text transform="translate(367.11,1843.70) scale(1.1468,1)" style="font-family:'Liberation Sans',sans-serif;font-weight:bold;font-size:45.57px" fill="#000" stroke="#000" stroke-width="0.9">GS</text>
<text transform="translate(483.47,1843.70) scale(1.1596,1)" style="font-family:'Liberation Sans',sans-serif;font-weight:bold;font-size:45.57px" fill="#000" stroke="#000" stroke-width="0.9">PS</text>
<text transform="translate(583.73,1843.70) scale(1.0771,1)" style="font-family:'Liberation Sans',sans-serif;font-weight:bold;font-size:45.57px" fill="#000" stroke="#000" stroke-width="0.9">Sulf</text>
<text transform="translate(714.87,1843.70) scale(1.1123,1)" style="font-family:'Liberation Sans',sans-serif;font-weight:bold;font-size:45.57px" fill="#000" stroke="#000" stroke-width="0.9">C</text>
<text transform="translate(813.80,1843.70) scale(1.1508,1)" style="font-family:'Liberation Sans',sans-serif;font-weight:bold;font-size:45.57px" fill="#000" stroke="#000" stroke-width="0.9">CS</text>
<text transform="translate(925.71,1843.70) scale(1.1468,1)" style="font-family:'Liberation Sans',sans-serif;font-weight:bold;font-size:45.57px" fill="#000" stroke="#000" stroke-width="0.9">GS</text>
<text transform="translate(1039.14,1843.70) scale(1.1668,1)" style="font-family:'Liberation Sans',sans-serif;font-weight:bold;font-size:45.57px" fill="#000" stroke="#000" stroke-width="0.9">PS</text>
<text transform="translate(1140.05,1843.70) scale(1.0571,1)" style="font-family:'Liberation Sans',sans-serif;font-weight:bold;font-size:45.57px" fill="#000" stroke="#000" stroke-width="0.9">Sulf</text>
<text transform="translate(1263.44,1843.70) scale(1.1290,1)" style="font-family:'Liberation Sans',sans-serif;font-weight:bold;font-size:45.57px" fill="#000" stroke="#000" stroke-width="0.9">C</text>
<text transform="translate(1362.79,1843.70) scale(1.1592,1)" style="font-family:'Liberation Sans',sans-serif;font-weight:bold;font-size:45.57px" fill="#000" stroke="#000" stroke-width="0.9">CS</text>
<text transform="translate(1471.81,1843.70) scale(1.1484,1)" style="font-family:'Liberation Sans',sans-serif;font-weight:bold;font-size:45.57px" fill="#000" stroke="#000" stroke-width="0.9">GS</text>
<text transform="translate(1588.93,1843.70) scale(1.1703,1)" style="font-family:'Liberation Sans',sans-serif;font-weight:bold;font-size:45.57px" fill="#000" stroke="#000" stroke-width="0.9">PS</text>
<text transform="translate(1689.44,1843.70) scale(1.0689,1)" style="font-family:'Liberation Sans',sans-serif;font-weight:bold;font-size:45.57px" fill="#000" stroke="#000" stroke-width="0.9">Sulf</text>
<rect x="182.4" y="1870.8" width="448.40" height="6.20" fill="#000"/>
<rect x="736" y="1870.8" width="449.70" height="6.20" fill="#000"/>
<rect x="1283" y="1870.8" width="467.60" height="6.20" fill="#000"/>
<text transform="translate(339.13,1908.60) scale(1.0065,1)" style="font-family:'Liberation Sans',sans-serif;font-size:39.42px" fill="#111" >Day 2</text>
<text transform="translate(916.15,1908.50) scale(1.0594,1)" style="font-family:'Liberation Sans',sans-serif;font-size:38.41px" fill="#111" >Day 7</text>
<text transform="translate(1443.46,1908.50) scale(1.0681,1)" style="font-family:'Liberation Sans',sans-serif;font-size:37.97px" fill="#111" >Day 14</text>
<text transform="translate(64.30,664.98) rotate(-90) scale(0.8521,1)" style="font-family:'Liberation Sans',sans-serif;font-weight:bold;font-size:46.67px" fill="#000" >Log</text>
<text transform="translate(73.50,590.83) rotate(-90) scale(0.6566,1)" style="font-family:'Liberation Sans',sans-serif;font-size:31.16px" fill="#111" stroke="#111" stroke-width="0.9">1</text>
<text transform="translate(73.50,577.65) rotate(-90) scale(1.0029,1)" style="font-family:'Liberation Sans',sans-serif;font-size:31.16px" fill="#111" stroke="#111" stroke-width="0.9">0</text>
<text transform="translate(64.30,542.86) rotate(-90) scale(0.8489,1)" style="font-family:'Liberation Sans',sans-serif;font-weight:bold;font-size:46.00px" fill="#000" >CFU/g</text>
<text transform="translate(60.90,1652.35) rotate(-90) scale(0.9400,1)" style="font-family:'Liberation Sans',sans-serif;font-weight:bold;font-size:41.74px" fill="#000" >Log</text>
<text transform="translate(70.50,1580.62) rotate(-90) scale(0.6492,1)" style="font-family:'Liberation Sans',sans-serif;font-size:31.16px" fill="#111" stroke="#111" stroke-width="0.9">1</text>
<text transform="translate(70.50,1561.40) rotate(-90) scale(0.8023,1)" style="font-family:'Liberation Sans',sans-serif;font-size:31.16px" fill="#111" stroke="#111" stroke-width="0.9">0</text>
<text transform="translate(60.90,1536.17) rotate(-90) scale(0.9525,1)" style="font-family:'Liberation Sans',sans-serif;font-weight:bold;font-size:41.14px" fill="#000" >CFU/g</text>
<text transform="translate(646.12,1026.20) scale(1.0524,1)" style="font-family:'Liberation Serif',serif;font-weight:bold;font-style:italic;font-size:50.91px" fill="#000" stroke="#fff" stroke-width="0.7">Candida albicans</text>
<text transform="translate(1050.02,1026.20) scale(1.0632,1)" style="font-family:'Liberation Serif',serif;font-weight:bold;font-size:50.91px" fill="#000" stroke="#fff" stroke-width="0.7">SC 5314</text>
<text transform="translate(561.96,1994.20) scale(1.0299,1)" style="font-family:'Liberation Serif',serif;font-weight:bold;font-style:italic;font-size:50.30px" fill="#000" stroke="#fff" stroke-width="0.7">Staphylococcus aureus</text>
<text transform="translate(1069.47,1994.20) scale(1.0513,1)" style="font-family:'Liberation Serif',serif;font-weight:bold;font-size:50.30px" fill="#000" stroke="#fff" stroke-width="0.7">ATCC 25923</text>
<rect x="1593.3" y="25.7" width="188.5" height="124.9" fill="#fff" stroke="#000" stroke-width="3"/>
<text transform="translate(1662.60,110.10) scale(0.9546,1)" style="font-family:'Liberation Sans',sans-serif;font-size:68.84px" fill="#111" stroke="#fff" stroke-width="1.1">A</text>
<rect x="1593.3" y="1204.6" width="188.5" height="124.7" fill="#fff" stroke="#000" stroke-width="3"/>
<text transform="translate(1665.98,1289.30) scale(0.8877,1)" style="font-family:'Liberation Sans',sans-serif;font-size:69.28px" fill="#111" stroke="#fff" stroke-width="1.1">B</text>
</svg></body></html>
